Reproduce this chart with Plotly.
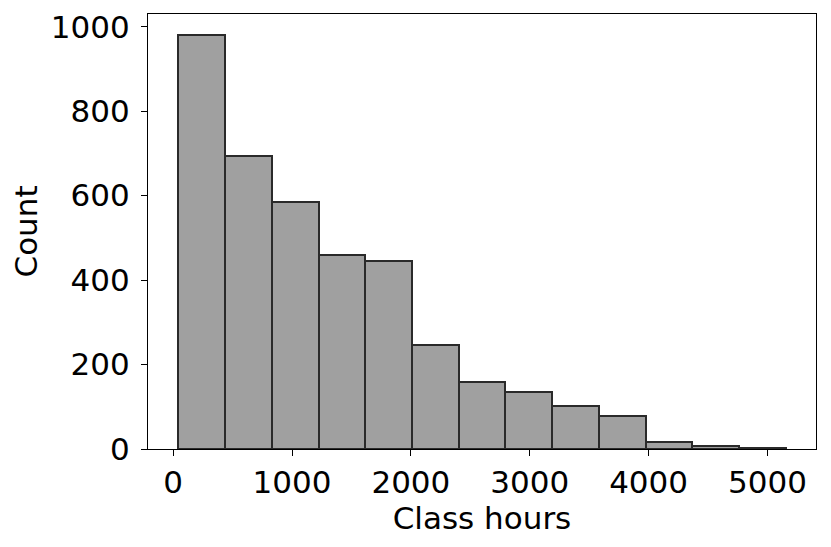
import numpy as np
import plotly.graph_objects as go

# histogram of class hours
bin_start = 44
bin_end = 5153
counts = [981, 694, 585, 459, 444, 246, 158, 134, 101, 79, 16, 6, 3]
x_ticks = [0, 1000, 2000, 3000, 4000, 5000]
y_ticks = [0, 200, 400, 600, 800, 1000]

edges = np.linspace(bin_start, bin_end, len(counts) + 1)
centers = (edges[:-1] + edges[1:]) / 2
widths = np.diff(edges)

fig = go.Figure(go.Bar(
    x=centers,
    y=counts,
    width=widths,
    marker=dict(color="#a0a0a0", line=dict(color="#2a2a2a", width=2)),
))

span = bin_end - bin_start
ymax = max(counts) * 1.05
font = dict(family="DejaVu Sans", size=31, color="black")

# the page has an 8px body margin, so the figure is a little smaller
fig.update_layout(
    width=823, height=539,
    margin=dict(l=140, r=15, t=6, b=98),
    plot_bgcolor="white", paper_bgcolor="white",
    showlegend=False,
    bargap=0,
    font=font,
    xaxis=dict(
        range=[bin_start - 0.05 * span, bin_end + 0.05 * span],
        tickvals=x_ticks, ticks="outside", ticklen=6, tickwidth=1.3,
        tickcolor="black", showgrid=False, zeroline=False,
        showline=True, linecolor="black", linewidth=1.3, mirror=True,
        title=dict(text="Class hours", font=font, standoff=4),
        tickfont=font, automargin=False,
    ),
    yaxis=dict(
        range=[0, ymax],
        tickvals=y_ticks, ticks="outside", ticklen=6, tickwidth=1.3,
        tickcolor="black", showgrid=False, zeroline=False,
        showline=True, linecolor="black", linewidth=1.3, mirror=True,
        title=dict(text="Count", font=font, standoff=4),
        tickfont=font, automargin=False, ticklabelstandoff=5,
    ),
)

fig.write_html("out.html")
